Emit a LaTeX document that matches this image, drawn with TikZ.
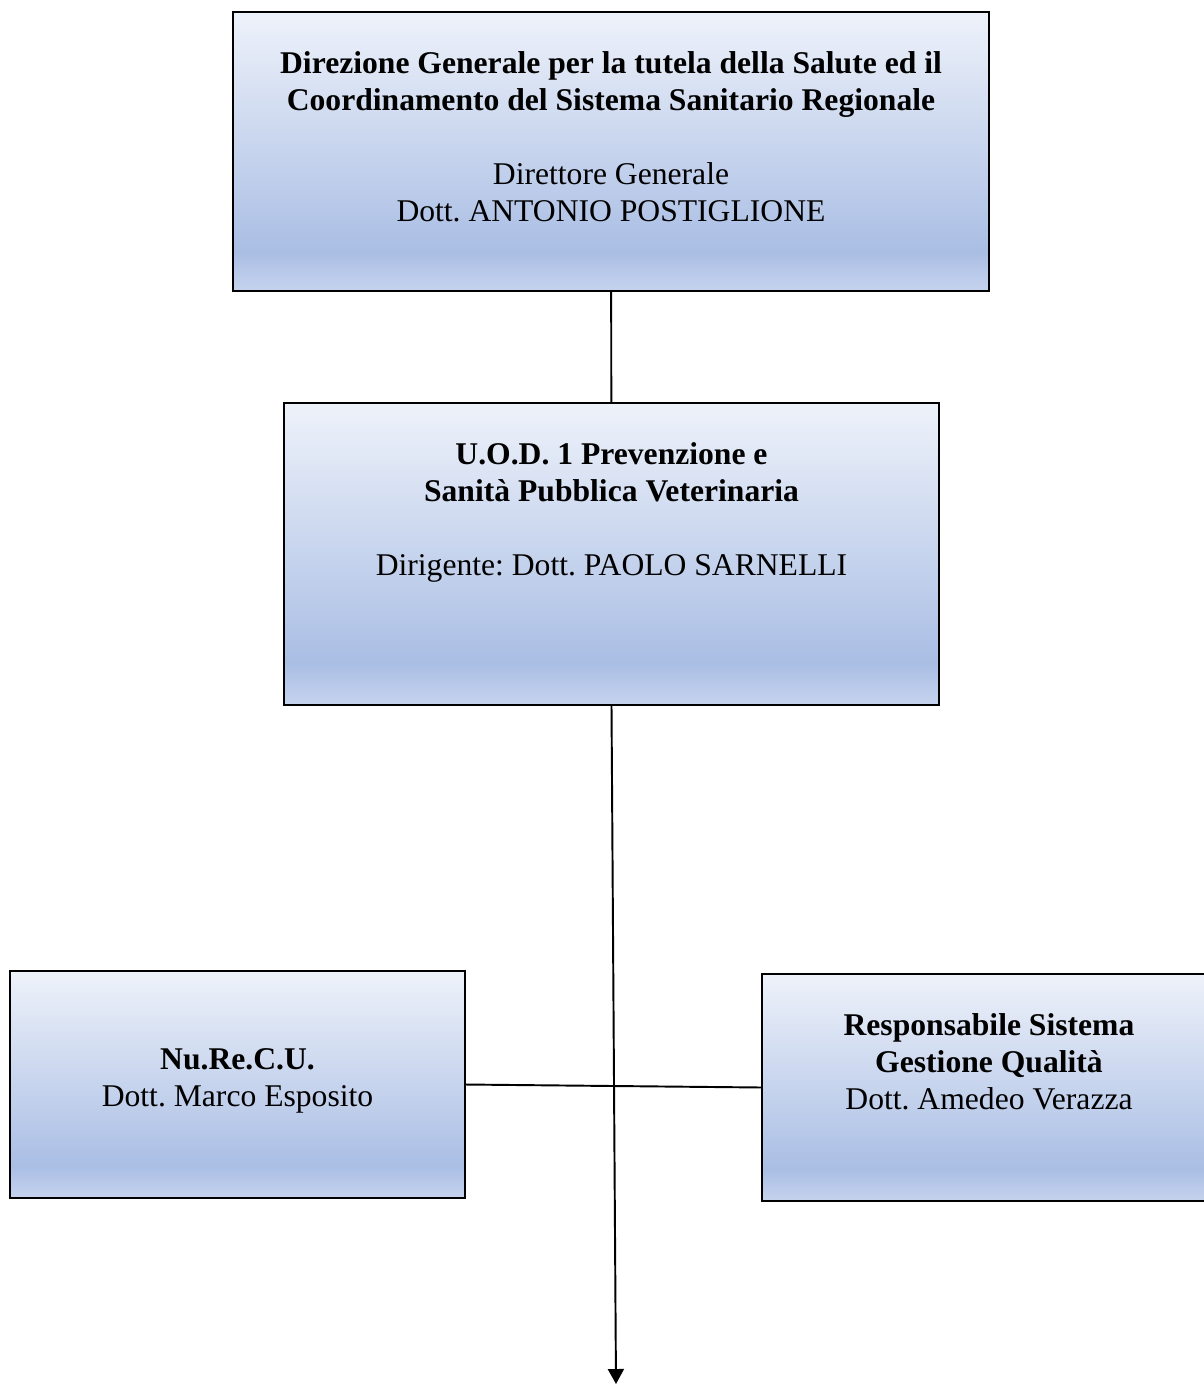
\documentclass[tikz,border=0pt]{standalone}
\usepackage{fontspec}
\setmainfont{Liberation Serif}
\usetikzlibrary{positioning,arrows.meta}
\frenchspacing
\definecolor{boxtop}{RGB}{238,242,250}
\definecolor{boxmid}{RGB}{170,190,228}
\definecolor{boxbot}{RGB}{198,211,238}
\pgfdeclareverticalshading{boxshade}{100bp}{color(0bp)=(boxbot); color(25bp)=(boxbot); color(32bp)=(boxmid); color(75bp)=(boxtop); color(100bp)=(boxtop)}

\begin{document}
\begin{tikzpicture}[x=0.02cm, y=-0.02cm,
    orgbox/.style={draw, line width=1pt, shading=boxshade, inner sep=0pt, outer sep=0pt},
    txt/.style={align=center, inner sep=0pt, outer sep=0pt, font=\fontsize{18}{21}\selectfont},
    conn/.style={line width=1.1pt}]
            \clip (0,0) rectangle (1204,1384);
            \node[orgbox, minimum width=15.12cm, minimum height=5.58cm] (dg) at (611,151.5) {};
            \node[orgbox, minimum width=13.1cm, minimum height=6.04cm] (uod) at (611.5,554) {};
            \node[orgbox, minimum width=9.1cm, minimum height=4.54cm] (nur) at (237.5,1084.5) {};
            \node[orgbox, minimum width=9.08cm, minimum height=4.54cm] (rsq) at (989,1087.5) {};
            % texts
            \node[txt, below=0.8cm of dg.north] (dgtxt) {\textbf{Direzione Generale per la tutela della Salute ed il}\\
                \textbf{Coordinamento del Sistema Sanitario Regionale}\\[21pt]
                Direttore Generale\\Dott. ANTONIO POSTIGLIONE};
            \node[txt, below=0.8cm of uod.north] (uodtxt) {\textbf{U.O.D. 1 Prevenzione e}\\
                \textbf{Sanità Pubblica Veterinaria}\\[21pt]
                Dirigente: Dott. PAOLO SARNELLI};
            \node[txt, below=1.55cm of nur.north] (nurtxt) {\textbf{Nu.Re.C.U.}\\Dott. Marco Esposito};
            \node[txt, below=0.8cm of rsq.north] (rsqtxt) {\textbf{Responsabile Sistema}\\
                \textbf{Gestione Qualità}\\Dott. Amedeo Verazza};
            
            \coordinate (end) at (616,1384);
            \draw[conn] (dg) -- (uod);
            \draw[conn, -{Triangle[length=0.3cm, width=0.32cm]}] (uod.south) -- (end);
            \draw[conn] (nur.east) -- (rsq.west);
\end{tikzpicture}
\end{document}
